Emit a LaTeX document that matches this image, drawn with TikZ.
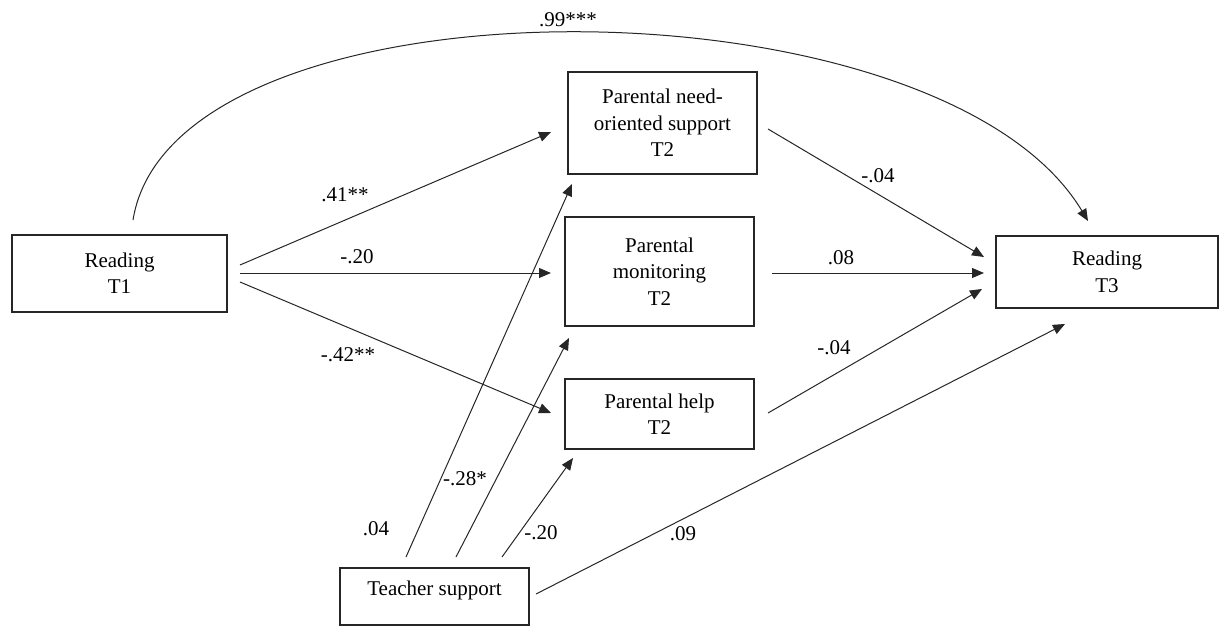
\documentclass[tikz,border=0pt]{standalone}
\usepackage{fontspec}
\setmainfont{Liberation Serif}
\usetikzlibrary{arrows.meta,calc}
\begin{document}
\begin{tikzpicture}[x=0.5pt,y=-0.5pt,
  box/.style={draw=black!85, line width=1pt, align=center, font=\fontsize{10.5}{13.2}\selectfont, inner sep=0pt},
  arr/.style={draw=black!85, line width=0.5pt, -{Triangle[length=6pt,width=5pt]}},
  lbl/.style={font=\fontsize{10.5}{13}\selectfont, inner sep=0pt}]
\useasboundingbox (0,0) rectangle (1220,626);
% boxes
\node[box, minimum width=107.5pt, minimum height=38.5pt] (t1) at (119.5,273.5) {Reading\\T1};
\node[box, minimum width=94.5pt, minimum height=51pt] (need) at (662.5,123) {Parental need-\\oriented support\\T2};
\node[box, minimum width=94.5pt, minimum height=54.5pt] (mon) at (659.5,271.5) {Parental\\monitoring\\T2};
\node[box, minimum width=94.5pt, minimum height=35pt] (help) at (659.5,414) {Parental help\\T2};
\node[box, minimum width=111pt, minimum height=36pt] (t3) at (1107,272) {Reading\\T3};
\node[box, minimum width=94.5pt, minimum height=28.5pt, text height=7pt, text depth=8.5pt] (teach) at (434.5,596.5) {Teacher support};
% arc
\draw[arr] ($(t1.north)+(13.5,-14)$) .. controls +(40,-250) and +(-150,-250) .. ($(t3.north)+(-19,-14)$);
% T1 to mediators
\draw[arr] ($(t1.east)+(12,-8.5)$) -- ($(need.west)+(-16,9)$);
\draw[arr] ($(t1.east)+(12,-0.5)$) -- ($(mon.west)+(-13,1.5)$);
\draw[arr] ($(t1.east)+(12,8.5)$) -- ($(help.west)+(-13,-1)$);
% mediators to T3
\draw[arr] ($(need.east)+(10,6)$) -- ($(t3.west)+(-11,-15)$);
\draw[arr] ($(mon.east)+(17,1.5)$) -- ($(t3.west)+(-11,1)$);
\draw[arr] ($(help.east)+(13,-1)$) -- ($(t3.west)+(-13,17)$);
% teacher support
\draw[arr] ($(teach.north)+(-28.5,-10)$) -- ($(need.south)+(-90.5,9)$);
\draw[arr] ($(teach.north)+(21.5,-10)$) -- ($(mon.south)+(-90.5,11)$);
\draw[arr] ($(teach.north)+(67.5,-10)$) -- ($(help.south)+(-86.5,8)$);
\draw[arr] ($(teach.east)+(6,-2.5)$) -- ($(t3.south)+(-42,15)$);
% labels
\node[lbl] (l99) at (568,20) {.99***};
\node[lbl] (l41) at (345,195) {.41**};
\node[lbl] (l20a) at (357,257) {-.20};
\node[lbl] (l42) at (348,355) {-.42**};
\node[lbl] (l04a) at (878,176) {-.04};
\node[lbl] (l08) at (841,258) {.08};
\node[lbl] (l04b) at (834,348) {-.04};
\node[lbl] (l04c) at (376,529) {.04};
\node[lbl] (l28) at (465,479) {-.28*};
\node[lbl] (l20b) at (541,533) {-.20};
\node[lbl] (l09) at (683,534) {.09};
\end{tikzpicture}
\end{document}
